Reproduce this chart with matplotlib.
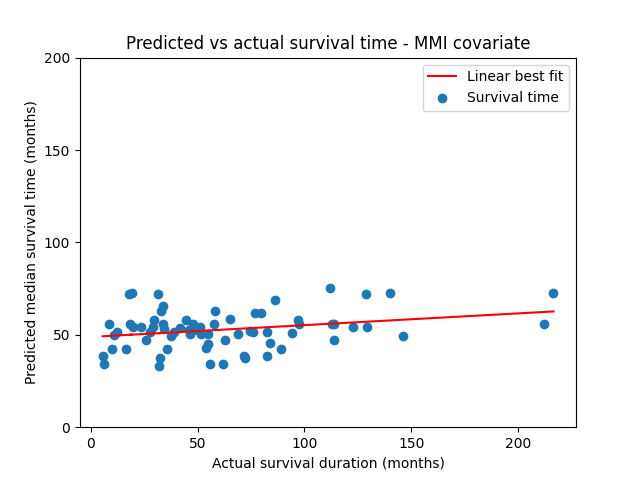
import numpy as np
import matplotlib
matplotlib.use("Agg")
import matplotlib.pyplot as plt

# actual survival duration (months)
actual = [5.6, 6.1, 8.4, 9.8, 10.8, 12.2, 16.4, 17.8, 19.2, 18.3,
          19.7, 23.4, 25.8, 27.6, 29.5, 29.0, 31.4, 32.3, 31.9, 32.8,
          33.7, 33.7, 34.2, 35.6, 37.5, 38.9, 41.7, 44.5, 45.9, 46.4,
          47.8, 49.6, 51.0, 51.5, 53.9, 54.8, 54.8, 55.7, 57.6, 58.1,
          61.8, 62.8, 65.1, 68.9, 71.7, 72.1, 74.5, 75.9, 76.8, 79.6,
          82.4, 82.4, 83.8, 86.2, 89.0, 94.1, 97.0, 97.4, 112.0, 112.9,
          113.8, 113.8, 122.7, 128.8, 129.3, 140.0, 146.1, 212.2, 216.4]

# predicted median survival time (months)
predicted = [38.5, 34.0, 55.8, 42.3, 49.9, 51.5, 42.3, 72.0, 72.6, 55.8,
             54.2, 54.2, 47.2, 51.5, 58.0, 54.2, 72.0, 37.4, 33.0, 62.9,
             65.6, 55.8, 53.0, 42.3, 49.3, 51.5, 53.7, 58.0, 52.6, 50.4,
             55.8, 52.6, 54.2, 50.4, 42.8, 50.4, 45.0, 34.0, 55.8, 62.9,
             34.0, 47.2, 58.5, 50.4, 38.5, 37.4, 52.0, 51.5, 61.8, 61.8,
             51.5, 38.5, 45.5, 68.8, 42.3, 51.0, 58.0, 55.8, 75.3, 55.8,
             55.8, 47.2, 54.2, 72.0, 54.2, 72.6, 49.3, 55.8, 72.6]

x = np.array(actual)
y = np.array(predicted)
m, b = np.polyfit(x, y, 1)

fig = plt.figure(figsize=(6.4, 4.8), dpi=100)
plt.plot(x, m * x + b, 'r', label='Linear best fit')
plt.scatter(x, y, label='Survival time')
plt.ylim(0, 200)
plt.yticks([0, 50, 100, 150, 200])
plt.xlabel('Actual survival duration (months)')
plt.ylabel('Predicted median survival time (months)')
plt.title('Predicted vs actual survival time - MMI covariate')
plt.legend(loc='upper right')
fig.savefig('out.png')
